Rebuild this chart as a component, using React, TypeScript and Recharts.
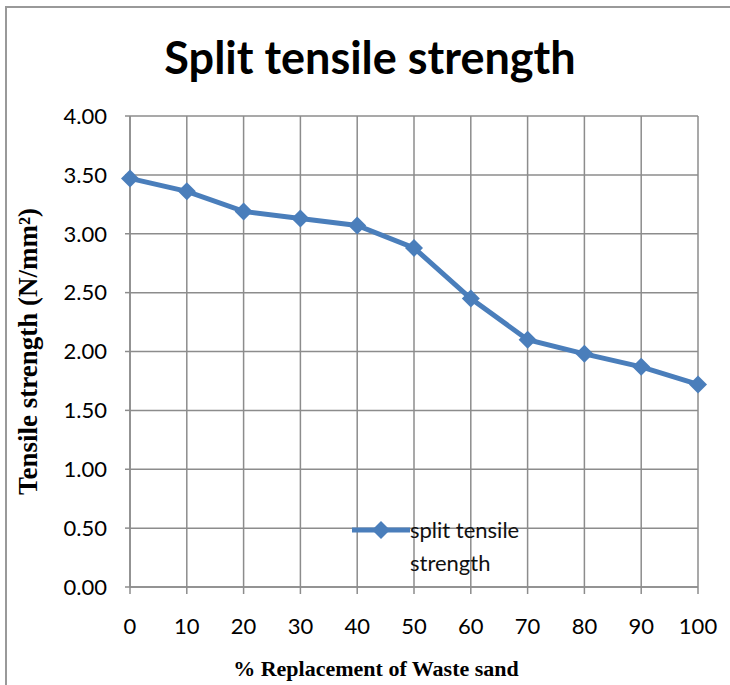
import React from "react";
import { LineChart, Line, XAxis, YAxis, CartesianGrid, Label } from "recharts";

// % replacement of waste sand
const replacement = [0, 10, 20, 30, 40, 50, 60, 70, 80, 90, 100];
// split tensile strength (N/mm²)
const strength = [3.47, 3.36, 3.19, 3.13, 3.07, 2.88, 2.45, 2.1, 1.98, 1.87, 1.72];
const yTicks = [0, 0.5, 1, 1.5, 2, 2.5, 3, 3.5, 4];

const data = replacement.map((x, i) => ({ x, y: strength[i] }));

const BLUE = "#4a7ebb";
const GRID = "#8c8c8c";
const TICK_FONT = "Lato, 'Open Sans', sans-serif";
const SERIF = "'Liberation Serif', 'DejaVu Serif', serif";

const Diamond = (props: any) => {
  const { cx, cy } = props;
  if (cx == null || cy == null) return null;
  const r = 9;
  return (
    <polygon
      points={`${cx},${cy - r} ${cx + r},${cy} ${cx},${cy + r} ${cx - r},${cy}`}
      fill={BLUE}
    />
  );
};

const YTitle = (props: any) => {
  const { viewBox } = props;
  const cy = viewBox.y + viewBox.height / 2;
  return (
    <text
      x={37}
      y={cy}
      transform={`rotate(-90, 37, ${cy})`}
      textAnchor="middle"
      fontFamily={SERIF}
      fontWeight="bold"
      fontSize={27}
      fill="#000"
    >
      Tensile strength (N/mm²)
    </text>
  );
};

export default function App() {
  return (
    <div
      style={{
        position: "fixed",
        left: 0,
        top: 0,
        width: 730,
        height: 685,
        background: "#fff",
        overflow: "hidden",
      }}
    >
      <div
        style={{
          position: "absolute",
          left: 5,
          top: 6,
          width: 740,
          height: 700,
          borderLeft: "2px solid #999",
          borderTop: "2px solid #999",
        }}
      />
      <div
        style={{
          position: "absolute",
          left: 0,
          top: 29,
          width: 740,
          textAlign: "center",
          fontFamily: TICK_FONT,
          fontWeight: 700,
          fontSize: 45,
          lineHeight: "56px",
          color: "#000",
        }}
      >
        Split tensile strength
      </div>
      <div style={{ position: "absolute", left: 0, top: 0 }}>
        <LineChart width={722} height={685} data={data} margin={{ top: 116, right: 24, left: 0, bottom: 0 }}>
          <CartesianGrid stroke={GRID} strokeWidth={1.5} />
          <XAxis
            dataKey="x"
            type="number"
            domain={[0, 100]}
            ticks={replacement}
            height={98}
            stroke={GRID}
            strokeWidth={1.5}
            tickSize={7}
            tickMargin={24}
            tick={{ fill: "#000", fontFamily: TICK_FONT, fontSize: 22 }}
          >
            <Label
              value="% Replacement of Waste sand"
              position="insideBottom"
              offset={9}
              dx={-38}
              style={{ fontFamily: SERIF, fontWeight: "bold", fontSize: 22, fill: "#000" }}
            />
          </XAxis>
          <YAxis
            type="number"
            domain={[0, 4]}
            ticks={yTicks}
            width={130}
            stroke={GRID}
            strokeWidth={1.5}
            tickSize={5}
            tickMargin={18}
            tickFormatter={(v: number) => v.toFixed(2)}
            tick={{ fill: "#000", fontFamily: TICK_FONT, fontSize: 22 }}
          >
            <Label content={<YTitle />} />
          </YAxis>
          <Line
            dataKey="y"
            stroke={BLUE}
            strokeWidth={5}
            dot={<Diamond />}
            activeDot={false}
            isAnimationActive={false}
          />
        </LineChart>
      </div>
      <div
        style={{
          position: "absolute",
          left: 352,
          top: 513,
          display: "flex",
          alignItems: "flex-start",
          fontFamily: TICK_FONT,
          fontSize: 22,
        }}
      >
        <svg width={58} height={34}>
          <line x1={0} y1={17} x2={58} y2={17} stroke={BLUE} strokeWidth={5} />
          <polygon points="29,8 38,17 29,26 20,17" fill={BLUE} />
        </svg>
        <div style={{ lineHeight: "33px", color: "#111", whiteSpace: "nowrap" }}>
          split tensile
          <br />
          strength
        </div>
      </div>
    </div>
  );
}
